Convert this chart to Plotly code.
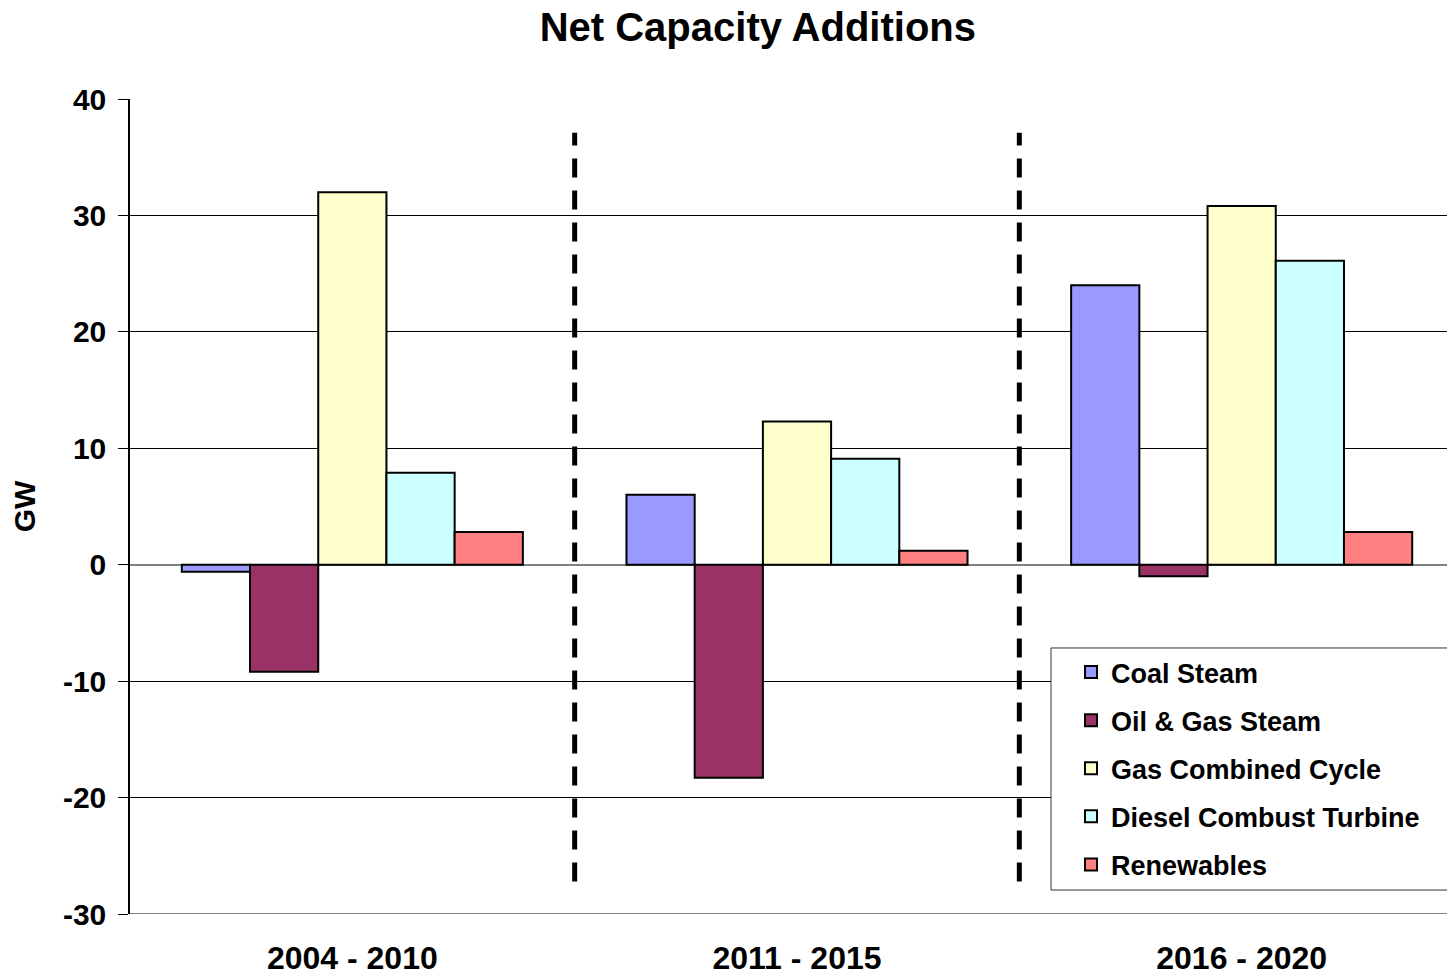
import plotly.graph_objects as go

periods = ['2004 - 2010', '2011 - 2015', '2016 - 2020']
series_names = ['Coal Steam', 'Oil & Gas Steam', 'Gas Combined Cycle',
                'Diesel Combust Turbine', 'Renewables']
coal_steam = [-0.6, 6.0, 24.0]
oil_gas_steam = [-9.2, -18.3, -1.0]
gas_combined_cycle = [32.0, 12.3, 30.8]
diesel_combust_turbine = [7.9, 9.1, 26.1]
renewables = [2.8, 1.2, 2.8]
y_ticks = [-30, -20, -10, 0, 10, 20, 30, 40]

colors = ['#9999FF', '#993366', '#FFFFCC', '#CCFFFF', '#FF8080']
values = [coal_steam, oil_gas_steam, gas_combined_cycle, diesel_combust_turbine, renewables]

fig = go.Figure()

for i, (name, vals) in enumerate(zip(series_names, values)):
    fig.add_trace(go.Bar(
        x=periods,
        y=vals,
        name=name,
        legendgroup=name,
        marker=dict(color=colors[i], line=dict(color='black', width=2)),
    ))

# dashed separators between period groups
for k in range(len(periods) - 1):
    fig.add_shape(
        type='line', xref='x', yref='y',
        x0=k + 0.5, x1=k + 0.5, y0=-27.2, y1=37.1,
        line=dict(color='black', width=5, dash='19px,13px'),
        layer='above',
    )

# legend frame (wider than plotly's own legend box)
fig.add_shape(type='rect', xref='paper', yref='paper',
              x0=0.6904, x1=0.9918, y0=0.0294, y1=0.3264,
              fillcolor='white', line=dict(color='#333333', width=1),
              layer='above')

# grey baseline at the bottom of the plot area
fig.add_shape(type='line', xref='paper', yref='y', x0=0, x1=1, y0=-30, y1=-30,
              line=dict(color='#808080', width=2))

# page body has an 8px margin, so the figure is shifted to compensate;
# the plot area runs slightly past the right edge of the window as in the original
fig.update_layout(
    title=dict(
        text='Net Capacity Additions',
        font=dict(family='Liberation Sans, Arial', size=40, color='black', weight='bold'),
        x=0.515,
        xanchor='center',
        y=0.995,
        yanchor='top',
    ),
    width=1456,
    height=968,
    margin=dict(l=122, r=0, t=91, b=62),
    paper_bgcolor='white',
    plot_bgcolor='white',
    font=dict(family='Liberation Sans, Arial', color='black'),
    barmode='group',
    bargap=0.233,
    bargroupgap=0,
    showlegend=True,
    legend=dict(
        x=0.7054, xanchor='left',
        y=0.3264, yanchor='top',
        bgcolor='rgba(0,0,0,0)',
        borderwidth=0,
        font=dict(size=27, color='black', weight='bold'),
        tracegroupgap=10,
    ),
    xaxis=dict(
        showgrid=False,
        showline=False,
        ticks='',
        tickfont=dict(size=32, color='black', weight='bold'),
        ticklabelstandoff=22,
    ),
    yaxis=dict(
        range=[-30, 40],
        tickvals=y_ticks,
        ticktext=[str(v) for v in y_ticks],
        tickfont=dict(size=30, color='black', weight='bold'),
        ticks='outside',
        ticklen=10,
        tickcolor='black',
        ticklabelstandoff=6,
        showline=True,
        linecolor='black',
        linewidth=1.5,
        showgrid=True,
        gridcolor='black',
        gridwidth=1,
        zeroline=True,
        zerolinecolor='#808080',
        zerolinewidth=2,
        title=dict(text='GW', font=dict(size=30, color='black', weight='bold'), standoff=24),
    ),
)

fig.write_html('out.html')
